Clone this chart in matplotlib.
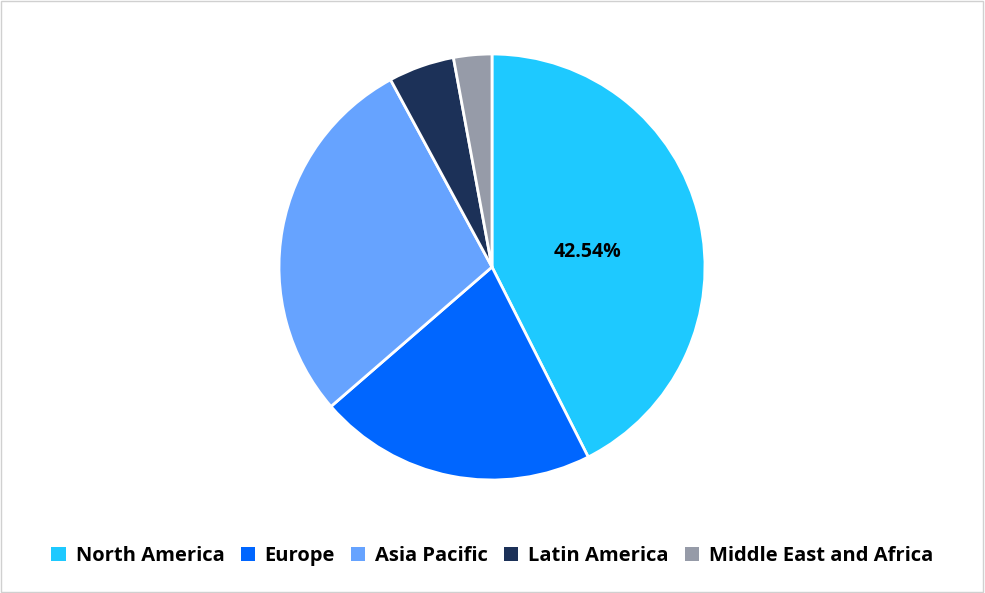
import matplotlib
matplotlib.use("Agg")
import matplotlib.pyplot as plt
from matplotlib.patches import Rectangle

regions = ["North America", "Europe", "Asia Pacific", "Latin America", "Middle East and Africa"]
shares = [42.54, 21.1, 28.46, 5.0, 2.9]
colors = ["#1EC9FF", "#0066FF", "#66A3FF", "#1C3158", "#969BA8"]

plt.rcParams['font.family'] = ['Open Sans', 'DejaVu Sans']
fig = plt.figure(figsize=(9.85, 5.93), dpi=100)
ax = fig.add_axes([0, 0, 1, 1])
ax.set_xlim(0, 985); ax.set_ylim(593, 0); ax.axis('off')
fig.patches.append(Rectangle((0.001, 0.002), 0.997, 0.996, transform=fig.transFigure,
                             fill=False, edgecolor="#D0D0D0", linewidth=1))

pax = fig.add_axes([(492-213)/985, 1-(267+213)/593, 426/985, 426/593])
wedges, _ = pax.pie(shares, colors=colors, startangle=90, counterclock=False,
                    wedgeprops=dict(edgecolor="white", linewidth=2))
pax.set_xlim(-1, 1); pax.set_ylim(-1, 1)
pax.set_aspect('equal')
pax.text(0.45, 0.07, f"{shares[0]:.2f}%", ha='center', va='center', fontsize=14, fontweight='bold', color='black')

leg = fig.legend(wedges, regions, loc='center', bbox_to_anchor=(0.5, 1-556/593), ncol=5,
                 frameon=False, prop=dict(size=14.5, weight='bold'), handlelength=0.7, handleheight=0.7,
                 columnspacing=0.8, handletextpad=0.5)
for h in leg.legend_handles:
    h.set_edgecolor('none')
fig.savefig("out.png", dpi=100)
